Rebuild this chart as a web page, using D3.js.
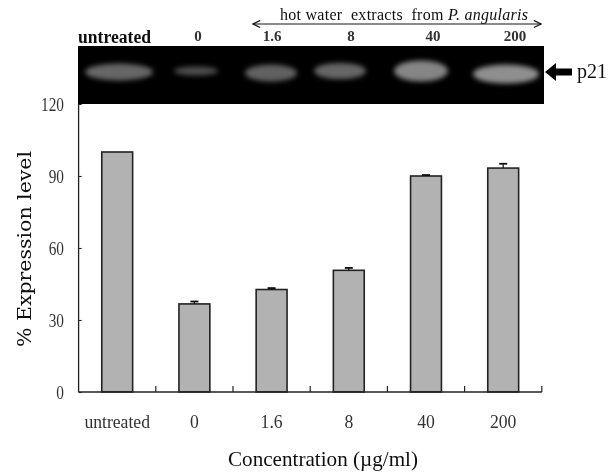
<!DOCTYPE html>
<html><head><meta charset="utf-8">
<script src="https://cdn.jsdelivr.net/npm/d3@7"></script>
<style>html,body{margin:0;padding:0;background:#fff}svg{display:block}</style>
</head><body><div id="c"></div>
<script>
const categories = ["untreated","0","1.6","8","40","200"];
const values = [100,36.7,42.7,50.7,90,93.3];
const errors = [0,1,0.6,1,0.4,1.8];
const yTicks = [0,30,60,90,120];
const gelLabels = ["0","1.6","8","40","200"];
const gelCenters = [119,196,271,340,421,506];
const gelWidths = [74,50,58,58,60,72];
const gelHeights = [21,13,21,20,25,23];
const gelRows = [72,71,73,71,71,74];
const gelBright = [0.40,0.30,0.38,0.40,0.52,0.56];

const W=616,H=474;
const svg=d3.select("#c").append("svg").attr("width",W).attr("height",H);
const defs=svg.append("defs");
defs.append("filter").attr("id","soft").attr("x","-5%").attr("y","-5%").attr("width","110%").attr("height","110%")
  .append("feGaussianBlur").attr("stdDeviation",0.4);
defs.append("filter").attr("id","band").attr("x","-40%").attr("y","-80%").attr("width","180%").attr("height","260%")
  .append("feGaussianBlur").attr("stdDeviation",2.6);
const mk=(id)=>defs.append("marker").attr("id",id).attr("viewBox","0 0 10 10").attr("refX",id==="e"?9:1).attr("refY",5)
  .attr("markerWidth",9).attr("markerHeight",9).attr("orient","auto").attr("markerUnits","userSpaceOnUse");
mk("e").append("path").attr("d","M1,1L9,5L1,9").attr("fill","none").attr("stroke","#111").attr("stroke-width",1.3);
mk("s").append("path").attr("d","M9,1L1,5L9,9").attr("fill","none").attr("stroke","#111").attr("stroke-width",1.3);

const root=svg.append("g").attr("filter","url(#soft)");
const serif='"Liberation Serif",serif';
const squeeze=(sel,f)=>sel.each(function(){
  const n=this.getComputedTextLength();
  d3.select(this).attr("textLength",n*f).attr("lengthAdjust","spacingAndGlyphs");
});
const x=d3.scaleBand().domain(categories).range([78.6,541.8]).paddingInner(0.6).paddingOuter(0.3);
const y=d3.scaleLinear().domain([0,120]).range([392,104]);

// bars
root.selectAll("rect.bar").data(categories).join("rect").attr("class","bar")
  .attr("x",d=>x(d)).attr("width",x.bandwidth())
  .attr("y",(d,i)=>y(values[i])).attr("height",(d,i)=>y(0)-y(values[i]))
  .attr("fill","#b2b2b2").attr("stroke","#222").attr("stroke-width",1.6);
// error bars
const idx=d=>categories.indexOf(d);
const eb=root.selectAll("g.err").data(categories.filter((d,i)=>errors[i]>0)).join("g").attr("class","err")
  .attr("stroke","#111").attr("stroke-width",1.2);
eb.append("line").attr("x1",d=>x(d)+x.bandwidth()/2).attr("x2",d=>x(d)+x.bandwidth()/2)
  .attr("y1",d=>y(values[idx(d)])).attr("y2",d=>y(values[idx(d)]+errors[idx(d)]));
eb.append("line").attr("x1",d=>x(d)+x.bandwidth()/2-4).attr("x2",d=>x(d)+x.bandwidth()/2+4)
  .attr("y1",d=>y(values[idx(d)]+errors[idx(d)])).attr("y2",d=>y(values[idx(d)]+errors[idx(d)])).attr("stroke-width",1.8);

// y axis
const gy=root.append("g").attr("transform","translate(78.6,0)")
  .call(d3.axisRight(y).tickValues(yTicks).tickSize(3).tickFormat(""));
gy.selectAll("path").attr("stroke","#222").attr("stroke-width",1.3).attr("d","M0,392V104");
gy.selectAll("line").attr("stroke","#222").attr("stroke-width",1.1);
root.selectAll("text.yt").data(yTicks).join("text").attr("class","yt")
  .attr("x",64).attr("y",d=>y(d)+6.5).attr("text-anchor","end")
  .attr("font-family",serif).attr("font-size",18).attr("fill","#333").text(d=>d)
  .call(squeeze,0.85);

// x axis
const gx=root.append("g").attr("transform","translate(0,392)");
gx.append("line").attr("x1",78.6).attr("x2",541.8).attr("stroke","#222").attr("stroke-width",1.4);
gx.selectAll("line.t").data(categories).join("line").attr("class","t")
  .attr("x1",d=>x(d)+x.bandwidth()/2+x.step()/2).attr("x2",d=>x(d)+x.bandwidth()/2+x.step()/2)
  .attr("y1",0).attr("y2",-6).attr("stroke","#222").attr("stroke-width",1.2);
root.selectAll("text.xt").data(categories).join("text").attr("class","xt")
  .attr("x",d=>x(d)+x.bandwidth()/2).attr("y",428).attr("text-anchor","middle")
  .attr("font-family",serif).attr("font-size",18).attr("fill","#333").text(d=>d)
  .call(squeeze,0.98);

root.append("text").attr("x",323).attr("y",466).attr("text-anchor","middle")
  .attr("font-family",serif).attr("font-size",22).attr("textLength",190).attr("lengthAdjust","spacingAndGlyphs").attr("fill","#111")
  .text("Concentration (µg/ml)");
root.append("text").attr("transform","translate(31,347) rotate(-90)")
  .attr("font-family",'"DejaVu Serif",serif').attr("font-size",18).attr("textLength",196).attr("lengthAdjust","spacingAndGlyphs").attr("fill","#111")
  .text("% Expression level");

// gel
root.append("rect").attr("x",78).attr("y",46).attr("width",466).attr("height",58).attr("fill","#040404");
svg.append("g").selectAll("ellipse").data(gelCenters).join("ellipse")
  .attr("cx",d=>d).attr("cy",(d,i)=>gelRows[i])
  .attr("rx",(d,i)=>gelWidths[i]/2-3).attr("ry",(d,i)=>gelHeights[i]/2-2)
  .attr("fill","#fff").attr("fill-opacity",(d,i)=>gelBright[i])
  .attr("filter","url(#band)");

// gel labels
root.append("text").attr("x",78).attr("y",43).attr("font-family",serif).attr("font-size",18)
  .attr("font-weight","bold").attr("fill","#111").attr("textLength",73).attr("lengthAdjust","spacingAndGlyphs").text("untreated");
const gelLabelX=[198,272,351,433,515];
root.selectAll("text.gl").data(gelLabels).join("text").attr("class","gl")
  .attr("x",(d,i)=>gelLabelX[i]).attr("y",41).attr("text-anchor","middle")
  .attr("font-family",serif).attr("font-size",15).attr("font-weight","bold").attr("fill","#333").text(d=>d);

// hot water arrow
root.append("line").attr("x1",253).attr("x2",541).attr("y1",24).attr("y2",24)
  .attr("stroke","#111").attr("stroke-width",1.1)
  .attr("marker-start","url(#s)").attr("marker-end","url(#e)");
const t=root.append("text").attr("x",280).attr("y",20).attr("font-family",serif).attr("font-size",16).attr("fill","#111").attr("xml:space","preserve").attr("textLength",248);
t.append("tspan").text("hot water  extracts  from ");
t.append("tspan").attr("font-style","italic").text("P. angularis");

// p21 arrow
root.append("path").attr("d","M545,72L556,63V68.5H572V75.5H556V81Z").attr("fill","#000");
root.append("text").attr("x",577).attr("y",78).attr("font-family",serif).attr("font-size",20).attr("fill","#111").text("p21");
</script></body></html>
